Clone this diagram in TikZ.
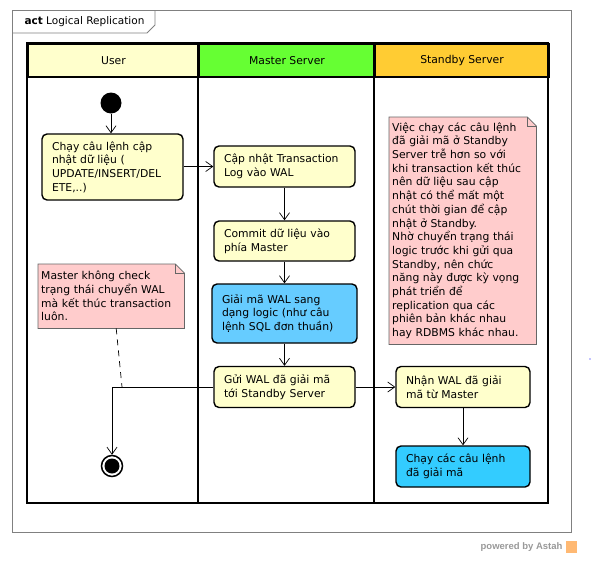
\documentclass[tikz,border=0pt]{standalone}
\usepackage{fontspec}
\setmainfont{DejaVu Sans}
\newfontfamily\poweredfont{Liberation Sans}
\usepackage{xcolor}
\usetikzlibrary{arrows.meta,calc,backgrounds}
\definecolor{clrAction}{RGB}{255,255,204}
\definecolor{clrDecode}{RGB}{102,204,255}
\definecolor{clrRun}{RGB}{51,204,255}
\definecolor{clrMaster}{RGB}{102,255,51}
\definecolor{clrStandby}{RGB}{255,204,51}
\definecolor{clrNote}{RGB}{255,204,204}
\definecolor{clrFrame}{RGB}{128,128,128}
\tikzstyle{tsText} = [
    text=black,
    font=\fontsize{10.8}{13.7}\selectfont
]
\tikzstyle{tsAction} = [
    rectangle,
    tsText,
    align=left,
    draw=black,
    line width=1.4pt,
    rounded corners=5pt,
    fill=clrAction,
    inner xsep=10pt,
    inner ysep=3pt
]
\tikzstyle{tsNote} = [
    rectangle,
    tsText,
    align=left,
    anchor=north west,
    inner xsep=3pt,
    inner ysep=3pt
]
\tikzstyle{tsLaneHeader} = [
    rectangle,
    tsText,
    draw=black,
    line width=2pt,
    minimum height=33pt,
    anchor=north west
]
\tikzstyle{tsFlow} = [
    -{Straight Barb[length=7pt,width=10pt]},
    line width=0.7pt
]
\tikzstyle{tsNoteLine} = [
    draw=black!60,
    fill=clrNote,
    line width=0.8pt
]

\begin{document}
\begin{tikzpicture}[x=1pt, y=-1pt]
        \useasboundingbox (0,0) rectangle (597,568);

        % frame
        \draw[clrFrame, line width=0.8pt] (12,10) rectangle (571,532);
        \draw[clrFrame, line width=0.8pt] (12,33) -- (147,33) -- (155,25) -- (155,10);
        \node[anchor=west, tsText, font=\fontsize{10.5}{12}\selectfont] (frameTitle) at (21,22) {\textbf{act} Logical Replication};

        % swimlanes
        \node[tsLaneHeader, fill=clrAction, minimum width=171pt] (laneUser) at (27,43) {User};
        \node[tsLaneHeader, fill=clrMaster, minimum width=176pt] (laneMaster) at (198,43) {Master Server};
        \node[tsLaneHeader, fill=clrStandby, minimum width=174pt] (laneStandby) at (374,43) {Standby Server};
        \draw[line width=2pt] (27,43) rectangle (548,503);
        \draw[line width=2pt] (198,43) -- (198,503);
        \draw[line width=2pt] (374,43) -- (374,503);

        % user
        \node[circle, fill=black, minimum size=21pt, inner sep=0pt] (initialNode) at (111,103) {};

        \node[  tsAction,
                minimum width=141pt,
                minimum height=66pt,
                text width=121pt] (runUpdate) at (112.5,167) {Chạy câu lệnh cập\\nhật dữ liệu (\\UPDATE/INSERT/DEL\\ETE,..)};

        \node[tsNote, text width=140pt, minimum height=64pt] (noteMaster) at (38,264) {Master không check\\trạng thái chuyển WAL\\mà kết thúc transaction\\luôn.};

        \node[circle, draw=black, line width=1.5pt, minimum size=21pt, inner sep=0pt] (finalNode) at (112,466) {};
        \fill (finalNode.center) circle (7.5pt);

        % master
        \node[  tsAction,
                minimum width=141pt,
                minimum height=41pt,
                text width=121pt] (writeLog) at (284.5,166.5) {Cập nhật Transaction\\Log vào WAL};

        \node[  tsAction,
                minimum width=141pt,
                minimum height=40pt,
                text width=121pt] (commitData) at (284.5,241) {Commit dữ liệu vào\\phía Master};

        \node[  tsAction,
                minimum width=145pt,
                minimum height=59pt,
                text width=125pt,
                fill=clrDecode] (decodeWal) at (284.5,313.5) {Giải mã WAL sang\\dạng logic (như câu\\lệnh SQL đơn thuần)};

        \node[  tsAction,
                minimum width=141pt,
                minimum height=41pt,
                text width=121pt] (sendWal) at (284.5,387) {Gửi WAL đã giải mã\\tới Standby Server};

        % standby
        \node[tsNote, text width=141pt, minimum height=227pt] (noteStandby) at (389,117) {Việc chạy các câu lệnh\\đã giải mã ở Standby\\Server trễ hơn so với\\khi transaction kết thúc\\nên dữ liệu sau cập\\nhật có thể mất một\\chút thời gian để cập\\nhật ở Standby.\\Nhờ chuyển trạng thái\\logic trước khi gửi qua\\Standby, nên chức\\năng này được kỳ vọng\\phát triển để\\replication qua các\\phiên bản khác nhau\\hay RDBMS khác nhau.};

        \node[  tsAction,
                minimum width=134pt,
                minimum height=41pt,
                text width=114pt] (receiveWal) at (463,387) {Nhận WAL đã giải\\mã từ Master};

        \node[  tsAction,
                minimum width=134pt,
                minimum height=41pt,
                text width=114pt,
                fill=clrRun] (runDecoded) at (463,466.5) {Chạy các câu lệnh\\đã giải mã};

        % note shapes
        \begin{scope}[on background layer]
            \draw[tsNoteLine] (noteMaster.north west) -- ([xshift=-9pt]noteMaster.north east) -- ([yshift=-9pt]noteMaster.north east) -- (noteMaster.south east) -- (noteMaster.south west) -- cycle;
            \draw[draw=black!60, line width=0.8pt] ([xshift=-9pt]noteMaster.north east) -- ([xshift=-9pt, yshift=-9pt]noteMaster.north east) -- ([yshift=-9pt]noteMaster.north east);
            \draw[tsNoteLine] (noteStandby.north west) -- ([xshift=-9pt]noteStandby.north east) -- ([yshift=-9pt]noteStandby.north east) -- (noteStandby.south east) -- (noteStandby.south west) -- cycle;
            \draw[draw=black!60, line width=0.8pt] ([xshift=-9pt]noteStandby.north east) -- ([xshift=-9pt, yshift=-9pt]noteStandby.north east) -- ([yshift=-9pt]noteStandby.north east);
        \end{scope}

        % flows
        \draw[tsFlow] (initialNode.south) -- (initialNode.south |- runUpdate.north);
        \draw[tsFlow] (runUpdate.east |- writeLog.west) -- (writeLog.west);
        \draw[tsFlow] (writeLog.south) -- (commitData.north);
        \draw[tsFlow] (commitData.south) -- (decodeWal.north);
        \draw[tsFlow] (decodeWal.south) -- (sendWal.north);
        \draw[tsFlow] (sendWal.east) -- (receiveWal.west);
        \draw[tsFlow] (receiveWal.south) -- (runDecoded.north);
        \draw[tsFlow] (sendWal.west) -| (finalNode.north);

        \coordinate (noteLink) at (122,387);
        \draw[line width=0.7pt, dash pattern=on 6pt off 5pt] ([xshift=5pt]noteMaster.south) -- (noteLink);

        % footer
        \node[anchor=east, text=black!40, font=\poweredfont\bfseries\fontsize{9.5}{10}\selectfont] (powered) at (566,547) {powered by Astah};
        \fill[orange!55] (566,541) rectangle (577,553);
        \fill[blue] (590,359) circle (0.7pt);

    \end{tikzpicture}
\end{document}
